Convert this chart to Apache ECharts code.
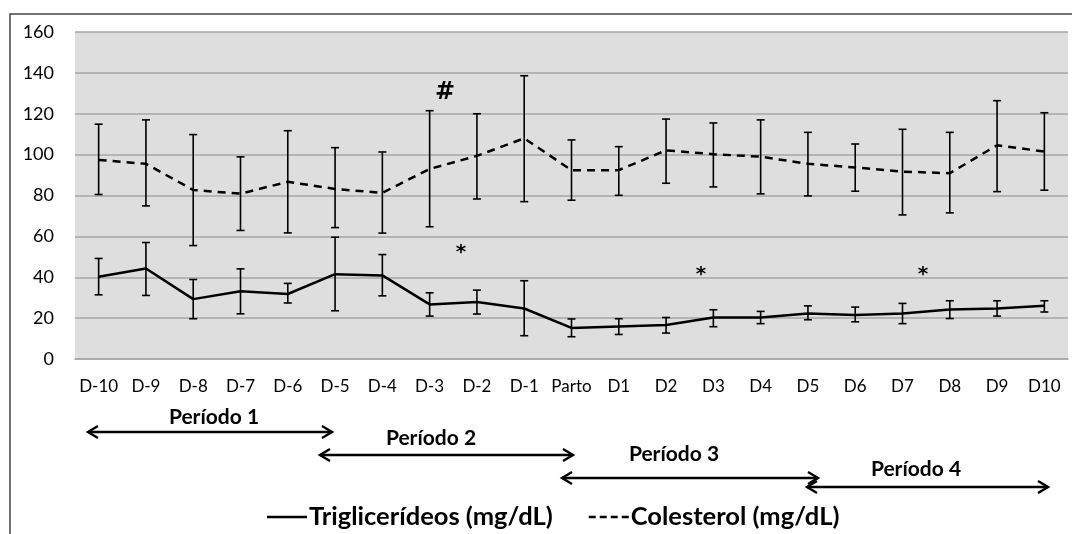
<!DOCTYPE html>
<html><head><meta charset="utf-8">
<script src="https://cdn.jsdelivr.net/npm/echarts@6/dist/echarts.min.js"></script>
<style>html,body{margin:0;padding:0;background:#fff}#c{width:1072px;height:534px}</style>
</head><body><div id="c"></div>
<script>
const categories = ['D-10','D-9','D-8','D-7','D-6','D-5','D-4','D-3','D-2','D-1','Parto','D1','D2','D3','D4','D5','D6','D7','D8','D9','D10'];
const trigMean = [40.2,44.3,29.3,33.2,31.8,41.5,40.9,26.7,27.9,24.7,15.2,15.9,16.6,20.3,20.3,22.3,21.5,22.3,24.2,24.7,26.0];
const trigHigh = [49.2,57.0,38.9,44.1,37.0,59.6,51.1,32.4,33.7,38.3,19.6,19.7,20.3,24.1,23.3,26.0,25.4,27.2,28.5,28.5,28.5];
const trigLow  = [31.4,31.1,19.7,22.1,27.4,23.6,30.9,21.0,22.0,11.4,10.9,12.0,12.7,15.8,17.3,19.2,18.2,17.3,19.8,21.0,23.0];
const cholMean = [97.4,95.5,82.7,80.9,86.7,83.2,81.3,93.0,99.4,108.0,92.4,92.4,102.1,100.2,99.0,95.5,93.7,91.7,90.9,104.6,101.5];
const cholHigh = [114.9,117.0,109.8,98.9,111.7,103.4,101.3,121.5,120.0,138.6,107.2,103.9,117.4,115.5,117.0,110.9,105.2,112.4,110.9,126.4,120.5];
const cholLow  = [80.5,74.9,55.5,62.9,61.7,64.3,61.6,64.7,78.3,77.0,77.7,80.1,86.0,84.2,80.8,79.8,82.1,70.5,71.5,81.9,82.6];
const yTicks = [0,20,40,60,80,100,120,140,160];
const seriesNames = ['Triglicerídeos (mg/dL)','Colesterol (mg/dL)'];
const periods = ['Período 1','Período 2','Período 3','Período 4'];

const chart = echarts.init(document.getElementById('c'), null, {renderer:'canvas'});

function errData(low, high){ return categories.map((c,i)=>[i, low[i], high[i]]); }
function errRender(params, api){
  const x = api.value(0);
  const lo = api.coord([x, api.value(1)]);
  const hi = api.coord([x, api.value(2)]);
  const w = 4;
  const st = {stroke:'#000', lineWidth:1.6, fill:null};
  return {type:'group', children:[
    {type:'line', shape:{x1:lo[0],y1:lo[1],x2:hi[0],y2:hi[1]}, style:st},
    {type:'line', shape:{x1:lo[0]-w,y1:lo[1],x2:lo[0]+w,y2:lo[1]}, style:st},
    {type:'line', shape:{x1:hi[0]-w,y1:hi[1],x2:hi[0]+w,y2:hi[1]}, style:st}
  ]};
}

function arrow(x1, x2, y){
  const h = 6, a = 10;
  const st = {stroke:'#000', lineWidth:2.4, fill:null};
  return {type:'group', silent:true, children:[
    {type:'line', shape:{x1:x1,y1:y,x2:x2,y2:y}, style:st},
    {type:'polyline', shape:{points:[[x1+a,y-h],[x1,y],[x1+a,y+h]]}, style:st},
    {type:'polyline', shape:{points:[[x2-a,y-h],[x2,y],[x2-a,y+h]]}, style:st}
  ]};
}
const lblStyle = {fill:'#000', font:'bold 21px Lato, "Open Sans", sans-serif', textAlign:'center', textVerticalAlign:'middle'};
const periodPos = [[88,332,432,214,417],[320,573,455,431,438],[562,818,478,674,454],[807,1048,487,916,469]];
const graphics = [
  {type:'rect', shape:{x:10,y:14,width:1070,height:540}, style:{fill:null, stroke:'#444', lineWidth:1.5}, silent:true, z:-10}
];
periods.forEach((p,i)=>{
  const q = periodPos[i];
  graphics.push(arrow(q[0], q[1], q[2]));
  graphics.push({type:'text', x:q[3], y:q[4], style:Object.assign({text:p}, lblStyle)});
});
const annoStyle = {fill:'#000', font:'bold 20px "DejaVu Sans", sans-serif', textAlign:'center', textVerticalAlign:'middle'};
graphics.push({type:'text', x:445, y:93, style:Object.assign({}, annoStyle, {text:'#', font:'bold 24px "DejaVu Sans", sans-serif'}), z:10});
graphics.push({type:'text', x:461, y:253, style:Object.assign({}, annoStyle, {text:'*'}), z:10});
graphics.push({type:'text', x:701, y:275, style:Object.assign({}, annoStyle, {text:'*'}), z:10});
graphics.push({type:'text', x:923, y:275, style:Object.assign({}, annoStyle, {text:'*'}), z:10});

chart.setOption({
  animation:false,
  backgroundColor:'#fff',
  grid:{left:75, top:32, right:4, bottom:175, show:true, backgroundColor:'#dedede', borderWidth:0},
  xAxis:{type:'category', data:categories, boundaryGap:true,
    axisLine:{show:true, lineStyle:{color:'#a6a6a6', width:1.5}}, axisTick:{show:false},
    axisLabel:{color:'#000', fontSize:17, fontFamily:'Lato, "Open Sans", sans-serif', margin:19, interval:0}},
  yAxis:{type:'value', min:0, max:160, interval:20,
    axisLine:{show:false}, axisTick:{show:false},
    splitLine:{show:true, lineStyle:{color:'#a6a6a6', width:1.5}},
    axisLabel:{color:'#000', fontSize:18, fontFamily:'Lato, "Open Sans", sans-serif', margin:21}},
  legend:{bottom:-1, left:262, itemGap:36, itemWidth:40, itemHeight:14,
    textStyle:{color:'#000', fontSize:25.5, fontWeight:'bold', fontFamily:'Lato, "Open Sans", sans-serif', padding:[0,0,0,-3]},
    data:[{name:seriesNames[0], icon:'path://M0,0H40V2.5H0Z'},{name:seriesNames[1], icon:'path://M0,0H7V2.5H0ZM11,0H18V2.5H11ZM22,0H29V2.5H22ZM33,0H40V2.5H33Z'}],
    itemStyle:{color:'#000'}},
  graphic:graphics,
  series:[
    {name:seriesNames[0], type:'line', data:trigMean, symbol:'none', lineStyle:{color:'#000', width:2.5, type:'solid'}, itemStyle:{color:'#000'}, z:3},
    {name:seriesNames[1], type:'line', data:cholMean, symbol:'none', lineStyle:{color:'#000', width:2.5, type:[8,6]}, itemStyle:{color:'#000'}, z:3},
    {name:'trigErr', type:'custom', data:errData(trigLow,trigHigh), renderItem:errRender, z:4, silent:true},
    {name:'cholErr', type:'custom', data:errData(cholLow,cholHigh), renderItem:errRender, z:4, silent:true}
  ]
});
</script></body></html>
